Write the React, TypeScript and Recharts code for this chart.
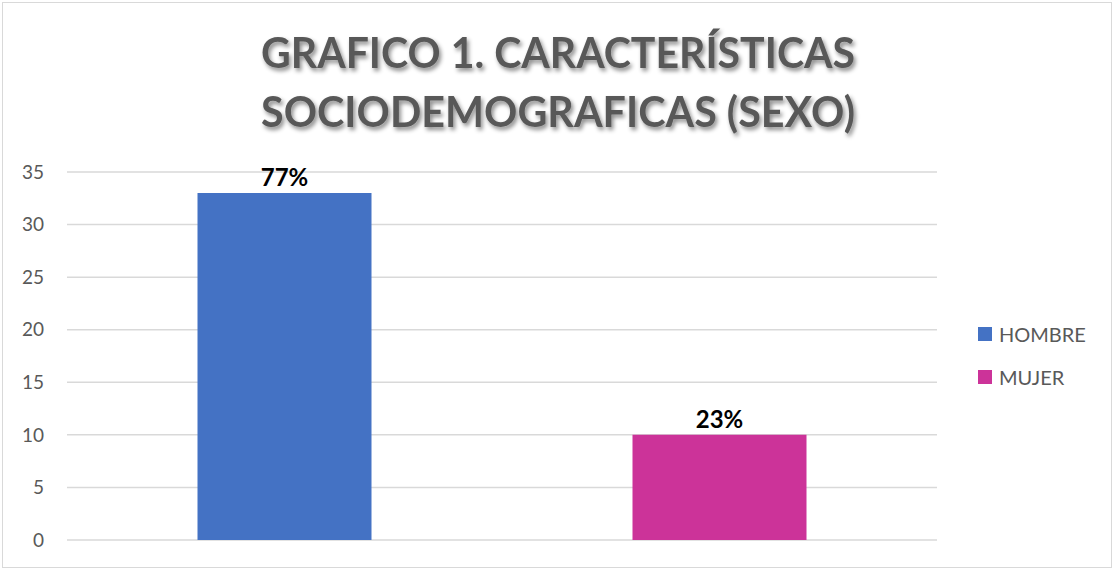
import { BarChart, Bar, XAxis, YAxis, CartesianGrid, Cell, LabelList } from "recharts"

const categories = ["HOMBRE", "MUJER"]
const counts = [33, 10]
const percentLabels = ["77%", "23%"]
const barColors = ["#4472C4", "#CC3399"]
const yTicks = [0, 5, 10, 15, 20, 25, 30, 35]
const titleLines = ["GRAFICO 1. CARACTERÍSTICAS", "SOCIODEMOGRAFICAS (SEXO)"]

const data = categories.map((name, i) => ({
  name,
  value: counts[i],
  label: percentLabels[i],
}))

const font = "Lato, 'Noto Sans', sans-serif"

// label drawn by hand so the font sticks
function TopLabel(props: any) {
  const { x, y, width, value } = props
  return (
    <text
      x={Number(x) + Number(width) / 2}
      y={Number(y) - 7}
      textAnchor="middle"
      fill="#000"
      fontSize={24}
      fontWeight={700}
      fontFamily={font}
    >
      {value}
    </text>
  )
}

export default function App() {
  return (
    <div style={{ position: "absolute", left: 0, top: 0, width: 1114, height: 569, background: "#fff" }}>
      <div
        style={{
          position: "absolute",
          left: 2,
          top: 2,
          width: 1110,
          height: 566,
          boxSizing: "border-box",
          border: "1px solid #d9d9d9",
        }}
      />
      <svg width={1114} height={150} style={{ position: "absolute", left: 0, top: 0 }}>
        <defs>
          <filter id="shadow" x="-5%" y="-20%" width="110%" height="150%">
            <feDropShadow dx="2" dy="3" stdDeviation="2" floodColor="#000" floodOpacity="0.45" />
          </filter>
        </defs>
        {titleLines.map((t, i) => (
          <text
            key={t}
            x={558}
            y={68 + i * 59}
            textAnchor="middle"
            textLength={594}
            lengthAdjust="spacingAndGlyphs"
            fontFamily={font}
            fontWeight={700}
            fontSize={42}
            fill="#595959"
            filter="url(#shadow)"
          >
            {t}
          </text>
        ))}
      </svg>
      <div style={{ position: "absolute", left: 0, top: 0 }}>
        <BarChart
          width={1114}
          height={569}
          data={data}
          margin={{ top: 172, right: 177, bottom: 29, left: 0 }}
          barCategoryGap="30%"
        >
          <CartesianGrid vertical={false} stroke="#d9d9d9" strokeWidth={1.5} />
          <XAxis dataKey="name" hide />
          <YAxis
            domain={[0, 35]}
            ticks={yTicks}
            width={67}
            axisLine={false}
            tickLine={false}
            tickSize={0}
            tickMargin={23}
            tick={{ fill: "#595959", fontSize: 19, fontFamily: font }}
          />
          <Bar dataKey="value" isAnimationActive={false}>
            {data.map((d, i) => (
              <Cell key={d.name} fill={barColors[i]} />
            ))}
            <LabelList dataKey="label" content={TopLabel} />
          </Bar>
        </BarChart>
      </div>
      {categories.map((c, i) => (
        <div
          key={c}
          style={{
            position: "absolute",
            left: 978,
            top: 320 + i * 43,
            height: 28,
            display: "flex",
            alignItems: "center",
            fontFamily: font,
            fontSize: 20,
            color: "#595959",
          }}
        >
          <span style={{ width: 14, height: 14, background: barColors[i], marginRight: 7, display: "inline-block" }} />
          {c}
        </div>
      ))}
    </div>
  )
}
